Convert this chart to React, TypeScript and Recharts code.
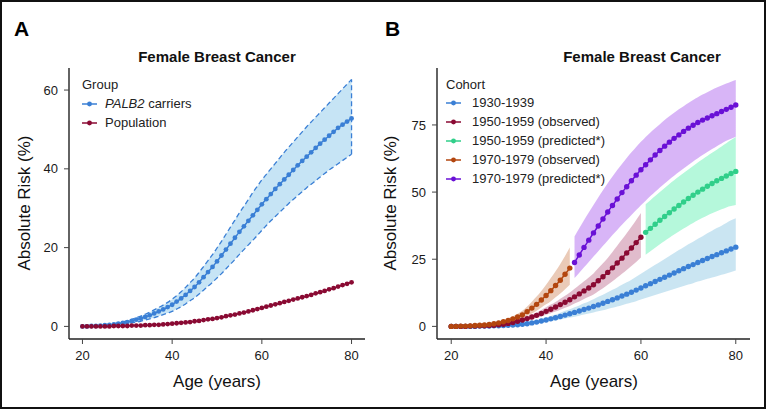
import React from "react";
import {
  ComposedChart,
  Line,
  Area,
  XAxis,
  YAxis,
  ReferenceLine,
} from "recharts";

// ages 20..80, one point per year
const ages = [
  20, 21, 22, 23, 24, 25, 26, 27, 28, 29, 30, 31, 32, 33, 34, 35, 36, 37, 38, 39,
  40, 41, 42, 43, 44, 45, 46, 47, 48, 49, 50, 51, 52, 53, 54, 55, 56, 57, 58, 59,
  60, 61, 62, 63, 64, 65, 66, 67, 68, 69, 70, 71, 72, 73, 74, 75, 76, 77, 78, 79,
  80,
];
const xTicks = [20, 40, 60, 80];
const yTicksA = [0, 20, 40, 60];
const yTicksB = [0, 25, 50, 75];

// Panel A
const palb2 = [
  0.0, 0.0, 0.1, 0.1, 0.2, 0.3, 0.4, 0.5, 0.7, 0.9,
  1.1, 1.4, 1.7, 2.0, 2.4, 2.8, 3.3, 3.8, 4.3, 4.9,
  5.5, 6.3, 7.1, 8.0, 9.0, 10.0, 11.2, 12.5, 13.8, 15.1,
  16.5, 18.0, 19.5, 21.0, 22.5, 24.0, 25.4, 26.8, 28.2, 29.6,
  31.0, 32.3, 33.6, 34.9, 36.1, 37.3, 38.5, 39.7, 40.9, 42.0,
  43.1, 44.2, 45.3, 46.4, 47.4, 48.4, 49.4, 50.4, 51.2, 52.0,
  52.8,
];
const palb2Upper = [
  0.0, 0.0, 0.1, 0.1, 0.2, 0.4, 0.5, 0.7, 0.9, 1.2,
  1.4, 1.8, 2.2, 2.6, 3.1, 3.6, 4.2, 4.8, 5.4, 6.1,
  6.9, 7.8, 8.8, 9.9, 11.1, 12.3, 13.7, 15.2, 16.7, 18.2,
  19.9, 21.6, 23.4, 25.2, 27.0, 28.8, 30.5, 32.2, 34.0, 35.6,
  37.2, 38.6, 40.0, 41.4, 42.8, 44.2, 45.5, 46.8, 48.1, 49.4,
  50.7, 51.9, 53.1, 54.3, 55.5, 56.7, 57.9, 59.1, 60.3, 61.5,
  62.7,
];
const palb2Lower = [
  0.0, 0.0, 0.0, 0.1, 0.1, 0.2, 0.2, 0.3, 0.4, 0.6,
  0.7, 0.9, 1.1, 1.3, 1.6, 1.9, 2.2, 2.6, 3.0, 3.4,
  3.8, 4.4, 5.0, 5.7, 6.5, 7.3, 8.2, 9.2, 10.2, 11.2,
  12.3, 13.4, 14.6, 15.8, 17.0, 18.3, 19.5, 20.7, 21.9, 23.1,
  24.4, 25.6, 26.8, 27.9, 29.0, 30.1, 31.2, 32.2, 33.2, 34.2,
  35.2, 36.1, 37.0, 37.9, 38.8, 39.7, 40.5, 41.3, 42.1, 42.9,
  43.7,
];
const population = [
  0.0, 0.0, 0.0, 0.0, 0.0, 0.0, 0.0, 0.1, 0.1, 0.1,
  0.1, 0.2, 0.2, 0.2, 0.3, 0.3, 0.4, 0.4, 0.5, 0.6,
  0.7, 0.8, 0.9, 1.0, 1.1, 1.3, 1.4, 1.6, 1.8, 1.9,
  2.1, 2.3, 2.6, 2.8, 3.0, 3.3, 3.5, 3.8, 4.1, 4.4,
  4.7, 5.0, 5.3, 5.6, 5.9, 6.2, 6.5, 6.8, 7.1, 7.4,
  7.7, 8.0, 8.4, 8.7, 9.0, 9.4, 9.7, 10.1, 10.5, 10.8,
  11.2,
];

// Panel B: cohort 1930-1939 (ages 20-80)
const c1930 = [
  0.0, 0.0, 0.0, 0.0, 0.0, 0.0, 0.1, 0.1, 0.1, 0.2,
  0.2, 0.3, 0.4, 0.5, 0.6, 0.8, 1.0, 1.3, 1.6, 2.0,
  2.4, 2.8, 3.2, 3.7, 4.2, 4.7, 5.2, 5.7, 6.3, 6.8,
  7.4, 8.0, 8.6, 9.3, 9.9, 10.6, 11.3, 12.0, 12.7, 13.5,
  14.3, 15.1, 15.9, 16.7, 17.5, 18.3, 19.1, 19.9, 20.7, 21.5,
  22.3, 23.0, 23.8, 24.5, 25.3, 26.0, 26.7, 27.4, 28.1, 28.8,
  29.5,
];
const c1930Upper = [
  0.0, 0.0, 0.0, 0.0, 0.1, 0.1, 0.1, 0.2, 0.2, 0.3,
  0.4, 0.5, 0.6, 0.8, 0.9, 1.2, 1.5, 1.9, 2.3, 2.8,
  3.3, 3.9, 4.4, 5.1, 5.8, 6.4, 7.1, 7.8, 8.6, 9.3,
  10.1, 11.0, 11.8, 12.7, 13.6, 14.5, 15.5, 16.4, 17.4, 18.5,
  19.6, 20.7, 21.8, 22.9, 24.0, 25.1, 26.2, 27.3, 28.4, 29.5,
  30.6, 31.5, 32.6, 33.6, 34.7, 35.6, 36.6, 37.5, 38.5, 39.5,
  40.3,
];
const c1930Lower = [
  0.0, 0.0, 0.0, 0.0, 0.0, 0.0, 0.0, 0.0, 0.1, 0.1,
  0.1, 0.2, 0.3, 0.3, 0.4, 0.6, 0.7, 0.9, 1.1, 1.4,
  1.7, 2.0, 2.2, 2.6, 2.9, 3.3, 3.6, 4.0, 4.4, 4.8,
  5.2, 5.6, 6.0, 6.5, 6.9, 7.4, 7.9, 8.4, 8.9, 9.4,
  10.0, 10.6, 11.1, 11.7, 12.2, 12.8, 13.4, 13.9, 14.5, 15.0,
  15.6, 16.1, 16.7, 17.2, 17.7, 18.2, 18.7, 19.2, 19.7, 20.2,
  20.8,
];

// 1950-1959 observed, ages 20-60
const obs5059Start = 20;
const obs5059 = [
  0.0, 0.0, 0.0, 0.0, 0.1, 0.1, 0.2, 0.2, 0.3, 0.4,
  0.6, 0.8, 1.1, 1.4, 1.9, 2.4, 2.9, 3.5, 4.1, 4.8,
  5.6, 6.4, 7.2, 8.1, 9.0, 9.9, 11.0, 12.1, 13.2, 14.3,
  15.5, 17.0, 18.5, 20.1, 21.8, 23.6, 25.4, 27.3, 29.2, 31.2,
  33.2,
];
const obs5059Upper = [
  0.0, 0.0, 0.0, 0.0, 0.1, 0.1, 0.3, 0.3, 0.4, 0.5,
  0.8, 1.0, 1.4, 1.8, 2.4, 3.0, 3.7, 4.4, 5.2, 6.1,
  7.1, 8.1, 9.1, 10.3, 11.4, 12.6, 14.0, 15.4, 16.8, 18.2,
  19.7, 21.6, 23.5, 25.5, 27.7, 30.0, 32.3, 34.7, 37.1, 39.6,
  42.2,
];
const obs5059Lower = [
  0.0, 0.0, 0.0, 0.0, 0.1, 0.1, 0.2, 0.2, 0.2, 0.3,
  0.5, 0.6, 0.8, 1.1, 1.5, 1.8, 2.2, 2.7, 3.2, 3.7,
  4.3, 4.9, 5.5, 6.2, 6.9, 7.6, 8.5, 9.3, 10.2, 11.0,
  11.9, 13.1, 14.2, 15.5, 16.8, 18.2, 19.6, 21.0, 22.5, 24.0,
  25.6,
];

// 1950-1959 predicted, ages 61-80
const pred5059Start = 61;
const pred5059 = [
  35.0, 36.5, 38.0, 39.5, 40.9, 42.3, 43.7, 45.0, 46.3, 47.6,
  48.8, 50.0, 51.1, 52.2, 53.2, 54.2, 55.1, 56.0, 56.9, 57.7,
];
const pred5059Upper = [
  45.5, 47.0, 48.5, 50.0, 51.5, 53.0, 54.4, 55.8, 57.1, 58.4,
  59.7, 61.0, 62.2, 63.4, 64.6, 65.8, 67.0, 68.2, 69.4, 70.5,
];
const pred5059Lower = [
  26.7, 28.0, 29.3, 30.6, 31.8, 33.0, 34.2, 35.3, 36.4, 37.5,
  38.5, 39.5, 40.4, 41.3, 42.1, 42.9, 43.6, 44.3, 44.8, 45.2,
];

// 1970-1979 observed, ages 20-45
const obs7079Start = 20;
const obs7079 = [
  0.0, 0.0, 0.1, 0.1, 0.2, 0.3, 0.4, 0.5, 0.7, 1.0,
  1.3, 1.7, 2.2, 2.8, 3.5, 4.3, 5.5, 6.8, 8.2, 9.8,
  11.5, 13.3, 15.2, 17.2, 19.4, 21.7,
];
const obs7079Upper = [
  0.0, 0.0, 0.1, 0.1, 0.3, 0.4, 0.5, 0.7, 0.9, 1.4,
  1.8, 2.3, 3.0, 3.8, 4.7, 5.8, 7.4, 9.2, 11.1, 13.2,
  15.5, 18.0, 20.5, 23.2, 26.2, 29.4,
];
const obs7079Lower = [
  0.0, 0.0, 0.1, 0.1, 0.1, 0.2, 0.3, 0.4, 0.5, 0.7,
  0.9, 1.2, 1.6, 2.0, 2.5, 3.1, 3.9, 4.8, 5.8, 7.0,
  8.2, 9.4, 10.8, 12.2, 13.8, 15.5,
];

// 1970-1979 predicted, ages 46-80
const pred7079Start = 46;
const pred7079 = [
  23.8, 26.6, 29.4, 32.1, 34.8, 37.4, 40.0, 42.6, 45.0, 47.4,
  49.8, 52.0, 54.2, 56.3, 58.3, 60.2, 62.0, 63.8, 65.5, 67.1,
  68.6, 70.0, 71.3, 72.6, 73.8, 74.9, 75.9, 76.8, 77.6, 78.4,
  79.2, 80.0, 80.8, 81.6, 82.4,
];
const pred7079Upper = [
  33.5, 36.5, 39.5, 42.4, 45.2, 48.0, 50.7, 53.3, 55.8, 58.2,
  60.5, 62.7, 64.8, 66.8, 68.7, 70.5, 72.2, 73.8, 75.3, 76.8,
  78.2, 79.5, 80.8, 82.0, 83.2, 84.3, 85.3, 86.3, 87.2, 88.1,
  88.9, 89.7, 90.4, 91.1, 91.7,
];
const pred7079Lower = [
  18.0, 20.0, 22.0, 24.0, 26.0, 28.0, 30.0, 32.0, 34.0, 35.9,
  37.8, 39.7, 41.5, 43.3, 45.1, 46.8, 48.5, 50.1, 51.7, 53.2,
  54.7, 56.1, 57.5, 58.8, 60.1, 61.4, 62.6, 63.8, 64.9, 66.0,
  67.1, 68.1, 69.1, 69.9, 70.6,
];

const at = (arr: number[], start: number, age: number) => {
  const v = arr[age - start];
  return v === undefined ? undefined : v;
};

const rowsA = ages.map((age, i) => ({
  age,
  palb2: palb2[i],
  palb2Band: [palb2Lower[i], palb2Upper[i]],
  population: population[i],
}));

const rowsB = ages.map((age, i) => {
  const band = (lo: number[], hi: number[], start: number) => {
    const l = at(lo, start, age);
    const h = at(hi, start, age);
    return l === undefined || h === undefined ? null : [l, h];
  };
  return {
    age,
    c1930: c1930[i],
    c1930Band: [c1930Lower[i], c1930Upper[i]],
    obs5059: at(obs5059, obs5059Start, age),
    obs5059Band: band(obs5059Lower, obs5059Upper, obs5059Start),
    pred5059: at(pred5059, pred5059Start, age),
    pred5059Band: band(pred5059Lower, pred5059Upper, pred5059Start),
    obs7079: at(obs7079, obs7079Start, age),
    obs7079Band: band(obs7079Lower, obs7079Upper, obs7079Start),
    pred7079: at(pred7079, pred7079Start, age),
    pred7079Band: band(pred7079Lower, pred7079Upper, pred7079Start),
  };
});

const BLUE = "#3a7fd5";
const MAROON = "#8a0a33";
const GREEN = "#30cf8a";
const ORANGE = "#b3460f";
const PURPLE = "#6a10d6";

const FONT = "'Liberation Sans', Arial, sans-serif";
const tickStyle = { fill: "#1a1a1a", fontSize: 13 };
const axisLineStyle = { stroke: "#222", strokeWidth: 1.4 };
const tickLineStyle = { stroke: "#444", strokeWidth: 1 };

const dot = (c: string, r = 2.4) => ({ r, fill: c, stroke: c, strokeWidth: 0 });

const LegendRow = ({ color, children, top, left, gap }: any) => (
  <div
    style={{
      position: "absolute",
      top,
      left,
      display: "flex",
      alignItems: "center",
      fontSize: 13,
      color: "#222",
      whiteSpace: "nowrap",
      lineHeight: "16px",
    }}
  >
    <svg width={15} height={8} style={{ marginRight: gap }}>
      <line x1={0} y1={4} x2={15} y2={4} stroke={color} strokeWidth={1.5} />
      <circle cx={7.5} cy={4} r={2.4} fill={color} />
    </svg>
    {children}
  </div>
);

const Title = ({ left, children }: any) => (
  <div
    style={{
      position: "absolute",
      top: 48,
      left,
      width: 240,
      textAlign: "center",
      fontSize: 15,
      fontWeight: "bold",
      color: "#111",
    }}
  >
    {children}
  </div>
);

const YLabel = ({ left }: any) => (
  <div
    style={{
      position: "absolute",
      left: left - 100,
      top: 193,
      width: 200,
      textAlign: "center",
      fontSize: 17,
      color: "#111",
      transform: "rotate(-90deg)",
    }}
  >
    Absolute Risk (%)
  </div>
);

const XLabel = ({ left }: any) => (
  <div
    style={{
      position: "absolute",
      left: left - 100,
      top: 372,
      width: 200,
      textAlign: "center",
      fontSize: 17,
      color: "#111",
    }}
  >
    Age (years)
  </div>
);

const PanelA = () => (
  <div style={{ position: "absolute", left: 0, top: 0, width: 383, height: 410 }}>
    <ComposedChart
      width={383}
      height={410}
      data={rowsA}
      margin={{ top: 68, right: 18, bottom: 0, left: 0 }}
    >
      <XAxis
        type="number"
        dataKey="age"
        domain={[17, 83]}
        ticks={xTicks}
        height={71}
        tick={tickStyle}
        tickSize={5}
        tickMargin={7}
        axisLine={axisLineStyle}
        tickLine={tickLineStyle}
        allowDataOverflow
      />
      <YAxis
        type="number"
        domain={[-3.2, 65.6]}
        ticks={yTicksA}
        width={69}
        tick={tickStyle}
        tickSize={5}
        tickMargin={6}
        axisLine={axisLineStyle}
        tickLine={tickLineStyle}
        allowDataOverflow
      />
      <Area
        type="monotone"
        dataKey="palb2Band"
        fill="#8ec9ec"
        fillOpacity={0.5}
        stroke={BLUE}
        strokeWidth={1.3}
        strokeDasharray="5 3"
        isAnimationActive={false}
      />
      <ReferenceLine
        segment={[
          { x: ages[ages.length - 1], y: palb2Lower[palb2Lower.length - 1] },
          { x: ages[ages.length - 1], y: palb2Upper[palb2Upper.length - 1] },
        ]}
        stroke={BLUE}
        strokeWidth={1.3}
        strokeDasharray="5 3"
      />
      <Line
        type="monotone"
        dataKey="palb2"
        stroke={BLUE}
        strokeWidth={1.5}
        dot={dot(BLUE)}
        isAnimationActive={false}
      />
      <Line
        type="monotone"
        dataKey="population"
        stroke={MAROON}
        strokeWidth={1.5}
        dot={dot(MAROON)}
        isAnimationActive={false}
      />
    </ComposedChart>
    <div style={{ position: "absolute", left: 14, top: 17, fontSize: 21, fontWeight: "bold" }}>A</div>
    <Title left={97}>Female Breast Cancer</Title>
    <YLabel left={25} />
    <XLabel left={217} />
    <div style={{ position: "absolute", left: 82, top: 77, fontSize: 13, color: "#222" }}>Group</div>
    <LegendRow color={BLUE} top={96} left={82} gap={8}>
      <i>PALB2</i>&nbsp;carriers
    </LegendRow>
    <LegendRow color={MAROON} top={115} left={82} gap={8}>
      Population
    </LegendRow>
  </div>
);

const bandProps = { type: "monotone" as const, stroke: "none", isAnimationActive: false };

const PanelB = () => (
  <div style={{ position: "absolute", left: 383, top: 0, width: 383, height: 410 }}>
    <ComposedChart
      width={383}
      height={410}
      data={rowsB}
      margin={{ top: 68, right: 16, bottom: 0, left: 0 }}
    >
      <XAxis
        type="number"
        dataKey="age"
        domain={[17, 83]}
        ticks={xTicks}
        height={71}
        tick={tickStyle}
        tickSize={5}
        tickMargin={7}
        axisLine={axisLineStyle}
        tickLine={tickLineStyle}
        allowDataOverflow
      />
      <YAxis
        type="number"
        domain={[-4.7, 96.2]}
        ticks={yTicksB}
        width={54}
        tick={tickStyle}
        tickSize={5}
        tickMargin={6}
        axisLine={axisLineStyle}
        tickLine={tickLineStyle}
        allowDataOverflow
      />
      <Area {...bandProps} dataKey="c1930Band" fill="#9fd0e8" fillOpacity={0.55} />
      <Area {...bandProps} dataKey="obs5059Band" fill="#b5577f" fillOpacity={0.4} />
      <Area {...bandProps} dataKey="pred5059Band" fill="#5cf0b0" fillOpacity={0.45} />
      <Area {...bandProps} dataKey="obs7079Band" fill="#d08a60" fillOpacity={0.45} />
      <Area {...bandProps} dataKey="pred7079Band" fill="#b26cf0" fillOpacity={0.5} />
      <Line type="monotone" dataKey="c1930" stroke={BLUE} strokeWidth={1.5} dot={dot(BLUE, 2.7)} isAnimationActive={false} />
      <Line type="monotone" dataKey="obs5059" stroke={MAROON} strokeWidth={1.5} dot={dot(MAROON, 2.7)} isAnimationActive={false} />
      <Line type="monotone" dataKey="pred5059" stroke={GREEN} strokeWidth={1.5} dot={dot(GREEN, 2.7)} isAnimationActive={false} />
      <Line type="monotone" dataKey="obs7079" stroke={ORANGE} strokeWidth={1.5} dot={dot(ORANGE, 2.7)} isAnimationActive={false} />
      <Line type="monotone" dataKey="pred7079" stroke={PURPLE} strokeWidth={1.5} dot={dot(PURPLE, 2.7)} isAnimationActive={false} />
    </ComposedChart>
    <div style={{ position: "absolute", left: 2, top: 17, fontSize: 21, fontWeight: "bold" }}>B</div>
    <Title left={139}>Female Breast Cancer</Title>
    <YLabel left={8} />
    <XLabel left={211} />
    <div style={{ position: "absolute", left: 63, top: 77, fontSize: 13, color: "#222" }}>Cohort</div>
    <LegendRow color={BLUE} top={95} left={63} gap={11}>1930-1939</LegendRow>
    <LegendRow color={MAROON} top={114} left={63} gap={11}>1950-1959 (observed)</LegendRow>
    <LegendRow color={GREEN} top={133} left={63} gap={11}>1950-1959 (predicted*)</LegendRow>
    <LegendRow color={ORANGE} top={152} left={63} gap={11}>1970-1979 (observed)</LegendRow>
    <LegendRow color={PURPLE} top={171} left={63} gap={11}>1970-1979 (predicted*)</LegendRow>
  </div>
);

export default function App() {
  return (
    <div
      style={{
        position: "fixed",
        left: 0,
        top: 0,
        width: 766,
        height: 410,
        background: "#fff",
        fontFamily: FONT,
      }}
    >
      <PanelA />
      <PanelB />
      <div
        style={{
          position: "absolute",
          left: 0,
          top: 0,
          width: 766,
          height: 409,
          border: "2px solid #111",
          boxSizing: "border-box",
          pointerEvents: "none",
        }}
      />
    </div>
  );
}
